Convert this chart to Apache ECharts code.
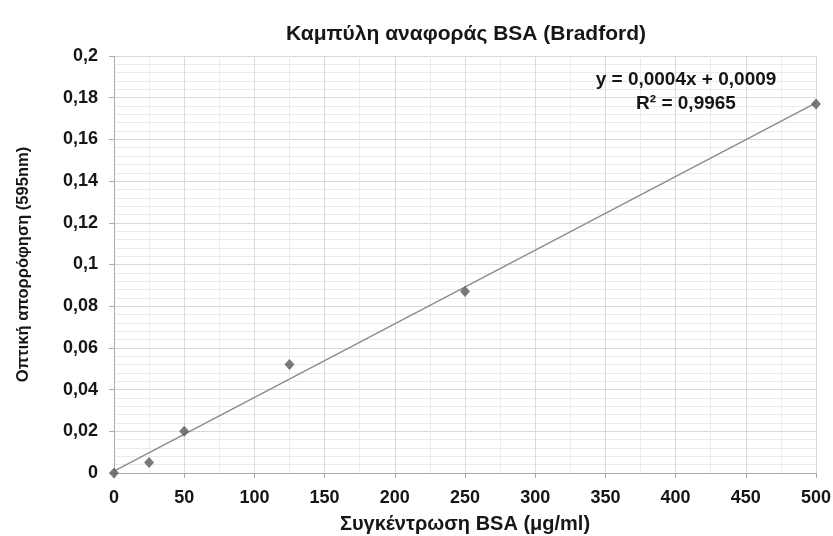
<!DOCTYPE html>
<html>
<head>
<meta charset="utf-8">
<script src="https://cdn.jsdelivr.net/npm/echarts@6/dist/echarts.min.js"></script>
<style>
  html, body { margin: 0; padding: 0; background: #fff; }
  #chart { width: 833px; height: 536px; }
</style>
</head>
<body>
<div id="chart"></div>
<script>
// BSA standard curve (Bradford assay)
const concentrations = [0, 25, 50, 125, 250, 500];          // µg/ml
const absorbance = [0, 0.005, 0.020, 0.052, 0.087, 0.177];  // A595
const xTicks = [0, 50, 100, 150, 200, 250, 300, 350, 400, 450, 500];
const yTicks = [0, 0.02, 0.04, 0.06, 0.08, 0.1, 0.12, 0.14, 0.16, 0.18, 0.2];
const equationLines = ['y = 0,0004x + 0,0009', 'R² = 0,9965'];

const chartTitle = 'Καμπύλη αναφοράς BSA (Bradford)';
const xName = 'Συγκέντρωση BSA (μg/ml)';
const yName = 'Οπτική απορρόφηση (595nm)';

// least-squares linear trendline through the standards
function linearFit(xs, ys) {
  const n = xs.length;
  const mx = xs.reduce((a, b) => a + b, 0) / n;
  const my = ys.reduce((a, b) => a + b, 0) / n;
  let sxy = 0, sxx = 0;
  for (let i = 0; i < n; i++) {
    sxy += (xs[i] - mx) * (ys[i] - my);
    sxx += (xs[i] - mx) * (xs[i] - mx);
  }
  const slope = sxy / sxx;
  return { slope, intercept: my - slope * mx };
}
const fit = linearFit(concentrations, absorbance);
const xMin = xTicks[0], xMax = xTicks[xTicks.length - 1];
const trendData = [
  [xMin, fit.slope * xMin + fit.intercept],
  [xMax, fit.slope * xMax + fit.intercept]
];
const points = concentrations.map((x, i) => [x, absorbance[i]]);

const fmt = v => String(Math.round(v * 1000) / 1000).replace('.', ',');
const font = '"Liberation Sans", Arial, sans-serif';
const ink = '#161616';

const chart = echarts.init(document.getElementById('chart'), null, { renderer: 'canvas' });
chart.setOption({
  backgroundColor: '#ffffff',
  animation: false,
  title: [{
    text: chartTitle,
    left: 461, top: 19, textAlign: 'center',
    textStyle: { fontFamily: font, fontSize: 21, fontWeight: 'bold', color: ink }
  }, {
    text: equationLines.join('\n'),
    left: 681, top: 63, textAlign: 'center',
    textStyle: { fontFamily: font, fontSize: 19, fontWeight: 'bold', color: ink, lineHeight: 24, align: 'center' }
  }],
  grid: { left: 114, right: 17, top: 56, bottom: 63, outerBoundsMode: 'none', containLabel: false },
  xAxis: {
    type: 'value',
    min: xMin, max: xMax, interval: xTicks[1] - xTicks[0],
    name: xName, nameLocation: 'middle', nameGap: 41,
    nameTextStyle: { fontFamily: font, fontSize: 20, fontWeight: 'bold', color: ink },
    axisLine: { show: true, lineStyle: { color: '#ababab' } },
    axisTick: { show: true, length: 5, lineStyle: { color: '#ababab' } },
    axisLabel: { fontFamily: font, fontSize: 18, fontWeight: 'bold', color: ink, margin: 16, formatter: fmt },
    splitLine: { show: true, lineStyle: { color: '#d9d9d9' } },
    minorTick: { show: false, splitNumber: 2 },
    minorSplitLine: { show: true, lineStyle: { color: '#ebebeb' } }
  },
  yAxis: {
    type: 'value',
    min: yTicks[0], max: yTicks[yTicks.length - 1], interval: yTicks[1] - yTicks[0],
    name: yName, nameLocation: 'middle', nameGap: 82, nameRotate: 90,
    nameTextStyle: { fontFamily: font, fontSize: 16.5, fontWeight: 'bold', color: ink },
    axisLine: { show: true, lineStyle: { color: '#ababab' } },
    axisTick: { show: true, length: 5, lineStyle: { color: '#ababab' } },
    axisLabel: { fontFamily: font, fontSize: 18, fontWeight: 'bold', color: ink, margin: 16, formatter: fmt },
    splitLine: { show: true, lineStyle: { color: '#d9d9d9' } },
    minorTick: { show: false, splitNumber: 5 },
    minorSplitLine: { show: true, lineStyle: { color: '#ebebeb' } }
  },
  series: [{
    type: 'line',
    data: trendData,
    showSymbol: false,
    symbol: 'none',
    lineStyle: { color: '#8a8a8a', width: 1.3 },
    z: 2
  }, {
    type: 'scatter',
    data: points,
    symbol: 'diamond',
    symbolSize: [10, 11],
    itemStyle: { color: '#595959' },
    z: 3
  }]
});
</script>
</body>
</html>
